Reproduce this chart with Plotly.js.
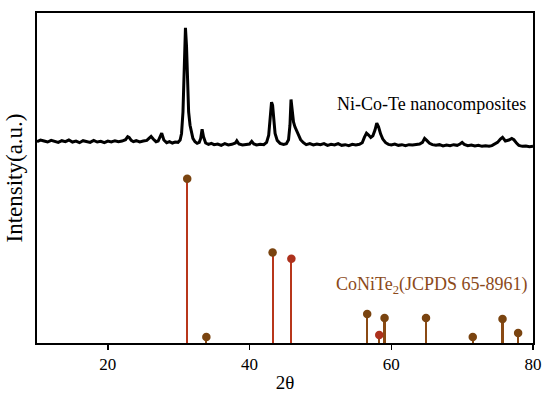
<!DOCTYPE html>
<html>
<head>
<meta charset="utf-8">
<script src="https://cdn.plot.ly/plotly-3.0.1.min.js"></script>
<style>html,body{margin:0;padding:0;background:#fff;}#chart{width:550px;height:393px;}</style>
</head>
<body>
<div id="chart"></div>
<script>
// XRD pattern of Ni-Co-Te nanocomposites (2θ in degrees, intensity a.u., offset upward)
const xrdTheta = [10,10.5,11,11.5,12,12.5,13,13.5,14,14.5,15,15.5,16,16.5,17,17.5,18,18.5,19,19.5,20,20.5,21,21.5,22,22.5,22.8,23,23.3,23.6,24,24.5,25,25.5,25.8,26.1,26.4,26.8,27.1,27.4,27.6,27.9,28.3,28.7,29.1,29.5,29.9,30.2,30.4,30.6,30.8,30.95,31.1,31.25,31.4,31.6,31.8,32.0,32.3,32.6,32.9,33.1,33.3,33.5,33.8,34.2,34.6,35,35.5,36,36.5,37,37.5,38.0,38.2,38.5,39,39.5,40.0,40.3,40.6,41,41.5,42,42.4,42.7,42.9,43.1,43.25,43.4,43.6,43.9,44.3,44.8,45.2,45.5,45.7,45.85,46.0,46.2,46.4,46.6,46.9,47.2,47.6,48,48.5,49,49.5,50,50.5,51,51.5,52,52.5,53,53.5,54,54.5,55,55.5,55.9,56.2,56.5,56.8,57.1,57.4,57.7,57.95,58.2,58.5,58.8,59.2,59.6,60,60.5,61,61.5,62,62.5,63,63.5,64,64.4,64.7,65,65.4,65.8,66.3,66.8,67.3,67.8,68.3,68.8,69.3,69.7,70,70.3,70.8,71.3,71.8,72.3,72.8,73.3,73.8,74.2,74.6,75.0,75.4,75.7,76.1,76.6,77.0,77.3,77.7,78,78.5,79,79.5,80];
const xrdIntensity = [61.0,61.5,61.2,60.9,61.4,61.1,60.8,61.3,61.0,61.5,60.9,61.2,60.7,61.3,61.0,60.8,61.4,60.9,61.1,60.7,61.2,60.9,61.3,61.0,61.2,61.6,62.5,62.3,61.4,61.0,61.3,60.9,61.2,61.4,62.0,62.6,61.8,61.0,61.2,62.8,63.6,61.5,60.7,61.0,60.6,60.9,60.8,61.5,63.5,70.0,84.0,95.5,90.0,78.0,70.0,66.0,63.5,62.0,61.0,60.5,60.8,62.0,64.8,62.5,60.6,60.2,60.5,60.1,60.3,59.9,60.4,60.0,60.2,60.6,61.3,60.3,60.0,60.2,60.3,61.1,60.3,60.0,60.2,60.1,60.8,63.0,67.5,73.0,72.0,67.0,63.5,61.4,60.5,60.2,60.4,61.6,66.0,73.8,71.0,67.0,65.5,64.5,63.0,61.6,60.7,60.1,60.4,60.0,60.3,60.1,60.4,59.9,60.2,60.0,60.4,59.9,60.1,59.8,60.2,60.0,60.2,60.7,62.3,63.6,63.0,62.3,62.8,64.5,66.6,65.5,63.3,61.8,60.7,60.2,60.0,60.3,59.9,60.1,59.8,60.1,60.0,60.2,60.3,60.8,62.0,61.4,60.5,60.1,59.9,60.1,59.7,60.0,59.8,60.1,59.9,60.3,60.8,60.2,59.8,60.0,59.7,59.9,59.6,59.8,59.6,59.8,60.2,60.8,61.8,62.3,61.2,61.5,62.0,61.6,60.5,59.9,59.6,59.7,59.5,59.6];

// CoNiTe2 reference pattern (JCPDS 65-8961)
const refTheta = [31.2,33.9,43.25,45.9,56.6,58.3,59.05,64.9,71.5,75.7,77.9];
const refIntensity = [49.8,1.8,27.4,25.5,8.8,2.4,7.6,7.6,1.8,7.3,3.0];

const axisTicks = [20,40,60,80];

// styles (kept separate from data)
const stemColors = refIntensity.map(v => (v > 20 ? '#b8361b' : '#8a4a14'));
const dotColors  = refTheta.map((t,i)=> (i===3 || i===5 ? '#ad311c' : '#7a4410'));

const serif = 'Times New Roman, Liberation Serif, DejaVu Serif, serif';

const traces = [
  {
    type:'scatter', mode:'lines', x: xrdTheta, y: xrdIntensity,
    line:{color:'#000', width:3}, showlegend:false
  },
  {
    type:'bar', x: refTheta, y: refIntensity, width: 0.3,
    marker:{color: stemColors, line:{width:0}}, showlegend:false
  },
  {
    type:'scatter', mode:'markers', x: refTheta, y: refIntensity,
    marker:{color: dotColors, size:8.5}, showlegend:false, cliponaxis:false
  }
];

const layout = {
  width:550, height:393,
  margin:{l:37, r:17, t:13, b:50},
  paper_bgcolor:'#fff', plot_bgcolor:'#fff',
  font:{family: serif, color:'#000', size:17},
  bargap:0,
  xaxis:{
    range:[10,80], tickvals: axisTicks, ticktext: axisTicks.map(String),
    ticks:'outside', ticklen:5, tickwidth:1.5, tickcolor:'#000',
    showline:true, linewidth:2, linecolor:'#000', mirror:true,
    showgrid:false, zeroline:false,
    tickfont:{family: serif, size:17},
    title:{text:'2θ', font:{family: serif, size:19}, standoff:4}
  },
  yaxis:{
    range:[0,100], showticklabels:false, ticks:'',
    showline:true, linewidth:2, linecolor:'#000', mirror:true,
    showgrid:false, zeroline:false,
    title:{text:'Intensity(a.u.)', font:{family: serif, size:23}, standoff:6}
  },
  annotations:[
    {xref:'paper', yref:'paper', x:0.99, y:0.724, xanchor:'right', yanchor:'middle',
     text:'Ni-Co-Te nanocomposites', showarrow:false, font:{family: serif, size:18, color:'#000'}},
    {xref:'paper', yref:'paper', x:0.994, y:0.175, xanchor:'right', yanchor:'middle',
     text:'CoNiTe<sub>2</sub>(JCPDS 65-8961)', showarrow:false, font:{family: serif, size:18, color:'#8b4a1a'}}
  ]
};

Plotly.newPlot('chart', traces, layout, {displayModeBar:false, staticPlot:true});
</script>
</body>
</html>
